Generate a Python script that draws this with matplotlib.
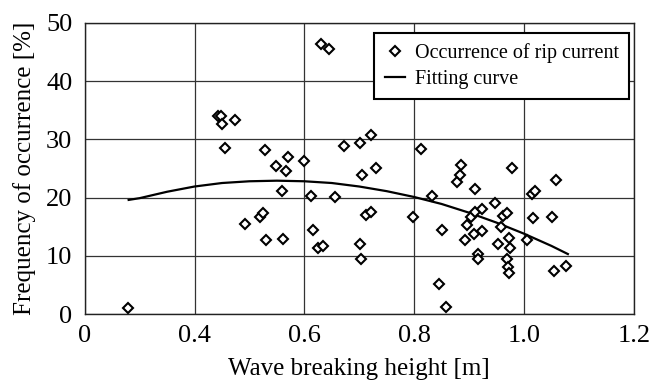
import matplotlib
matplotlib.use("Agg")
import matplotlib.pyplot as plt

plt.rcParams["font.family"] = ["Liberation Serif", "DejaVu Serif"]

# scatter data (x in the plotted axis units)
wave_height = [
    0.279, 0.443, 0.449, 0.450, 0.473, 0.455, 0.491, 0.519, 0.525, 0.529,
    0.530, 0.548, 0.560, 0.561, 0.566, 0.571, 0.599, 0.613, 0.616, 0.625,
    0.634, 0.630, 0.645, 0.655, 0.672, 0.701, 0.701, 0.704, 0.705, 0.713,
    0.721, 0.722, 0.731, 0.797, 0.813, 0.832, 0.845, 0.851, 0.858, 0.878,
    0.883, 0.886, 0.893, 0.897, 0.904, 0.910, 0.909, 0.911, 0.916, 0.916,
    0.924, 0.924, 0.948, 0.953, 0.958, 0.962, 0.969, 0.970, 0.971, 0.972,
    0.973, 0.975, 0.978, 1.006, 1.015, 1.021, 1.017, 1.051, 1.055, 1.058,
    1.077,
]
occurrence = [
    1.0, 34.0, 34.0, 32.6, 33.3, 28.5, 15.4, 16.7, 17.3, 28.1,
    12.7, 25.5, 21.1, 12.9, 24.5, 27.0, 26.2, 20.2, 14.5, 11.3,
    11.6, 46.3, 45.5, 20.1, 28.8, 29.3, 12.1, 9.4, 23.9, 17.0,
    17.6, 30.8, 25.0, 16.7, 28.3, 20.3, 5.2, 14.5, 1.2, 22.7,
    23.9, 25.6, 12.7, 15.3, 16.7, 17.5, 13.8, 21.5, 10.3, 9.4,
    18.0, 14.3, 19.1, 12.0, 14.9, 16.8, 17.3, 9.4, 8.0, 7.0,
    13.1, 11.3, 25.0, 12.7, 20.6, 21.1, 16.5, 16.7, 7.4, 23.0,
    8.3,
]

# fitting curve
fit_x = [0.28, 0.30, 0.35, 0.40, 0.45, 0.50, 0.55, 0.60, 0.65, 0.70,
         0.75, 0.80, 0.85, 0.90, 0.95, 1.00, 1.05, 1.08]
fit_y = [19.6, 19.9, 21.0, 21.9, 22.5, 22.8, 22.9, 22.8, 22.5, 21.9,
         21.1, 20.1, 18.9, 17.4, 15.7, 13.8, 11.7, 10.3]

x_ticks = [0.2, 0.4, 0.6, 0.8, 1.0, 1.2]
x_tick_labels = ["0", "0.4", "0.6", "0.8", "1.0", "1.2"]
y_ticks = [0, 10, 20, 30, 40, 50]

fig = plt.figure(figsize=(6.52, 3.82), dpi=100)
ax = fig.add_axes([0.130, 0.178, 0.842, 0.762])

ax.plot(wave_height, occurrence, linestyle="none", marker="D", markersize=4.8,
        markerfacecolor="white", markeredgecolor="black", markeredgewidth=1.5,
        label="Occurrence of rip current", zorder=3)
ax.plot(fit_x, fit_y, color="black", linewidth=1.6, label="Fitting curve", zorder=2)

ax.set_xlim(0.2, 1.2)
ax.set_ylim(0, 50)
ax.set_xticks(x_ticks)
ax.set_xticklabels(x_tick_labels)
ax.set_yticks(y_ticks)
ax.tick_params(length=0, labelsize=19)
ax.tick_params(axis="x", pad=8)
ax.tick_params(axis="y", pad=9)
ax.grid(True, color="#333333", linewidth=0.9)
ax.set_axisbelow(True)
for sp in ax.spines.values():
    sp.set_color("#222222")
    sp.set_linewidth(1.0)

ax.set_xlabel("Wave breaking height [m]", fontsize=18, labelpad=8)
ax.set_ylabel("Frequency of occurrence [%]", fontsize=18, labelpad=7)

leg = ax.legend(loc="upper right", bbox_to_anchor=(0.991, 0.966), borderaxespad=0,
                fontsize=14.5, fancybox=False, framealpha=1, edgecolor="black",
                handlelength=1.0, handletextpad=0.5, borderpad=0.5, labelspacing=0.35)
leg.get_frame().set_linewidth(1.5)

fig.savefig("out.png", dpi=100)
